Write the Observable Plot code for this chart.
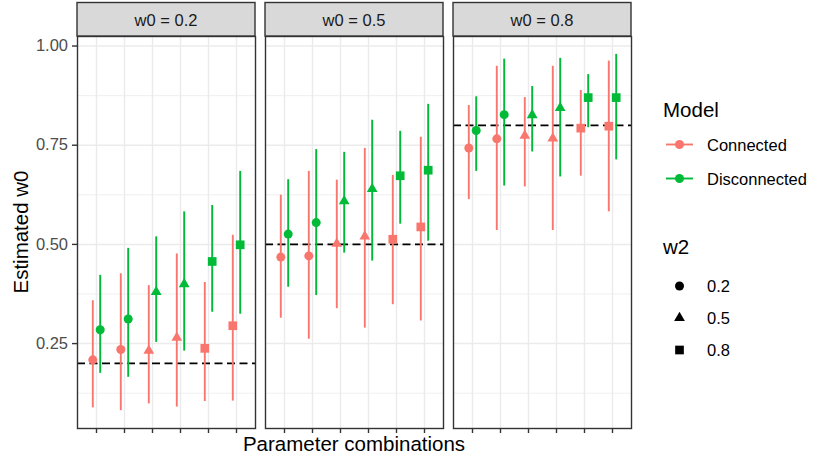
<!DOCTYPE html>
<html><head><meta charset="utf-8">
<script src="https://cdn.jsdelivr.net/npm/d3@7"></script>
<script src="https://cdn.jsdelivr.net/npm/@observablehq/plot@0.6"></script>
<style>
body{margin:0;background:#fff;}
#chart{position:relative;width:813px;height:459px;font-family:"Liberation Sans",Arial,sans-serif;}
</style>
</head><body><div id="chart"></div>
<script>
// ---- data ----
const facetLabels = ["w0 = 0.2", "w0 = 0.5", "w0 = 0.8"];
const trueW0 = [0.2, 0.5, 0.8];
const combos = ["1", "2", "3", "4", "5", "6"];
const comboW2 = ["0.2", "0.2", "0.5", "0.5", "0.8", "0.8"];
const w2Levels = ["0.2", "0.5", "0.8"];
const models = ["Connected", "Disconnected"];
const yTicks = [0.25, 0.5, 0.75, 1.0];
const yMinorTicks = [0.125, 0.375, 0.625, 0.875];

// Connected model: one row per facet (w0 = 0.2, 0.5, 0.8), six parameter combinations each
const connEst = [
  [0.209, 0.235, 0.232, 0.265, 0.238, 0.295],
  [0.468, 0.471, 0.502, 0.520, 0.513, 0.544],
  [0.743, 0.766, 0.774, 0.767, 0.793, 0.798]
];
const connLo = [
  [0.088, 0.081, 0.098, 0.090, 0.104, 0.105],
  [0.314, 0.261, 0.338, 0.289, 0.348, 0.307],
  [0.613, 0.535, 0.645, 0.535, 0.672, 0.582]
];
const connHi = [
  [0.358, 0.426, 0.396, 0.476, 0.404, 0.523],
  [0.624, 0.684, 0.662, 0.742, 0.674, 0.770],
  [0.850, 0.949, 0.870, 0.949, 0.888, 0.962]
];
// Disconnected model
const discEst = [
  [0.285, 0.312, 0.380, 0.400, 0.457, 0.499],
  [0.526, 0.555, 0.609, 0.640, 0.673, 0.687],
  [0.787, 0.827, 0.826, 0.844, 0.870, 0.870]
];
const discLo = [
  [0.175, 0.165, 0.253, 0.231, 0.329, 0.324],
  [0.392, 0.371, 0.478, 0.458, 0.551, 0.508],
  [0.684, 0.647, 0.733, 0.670, 0.794, 0.713]
];
const discHi = [
  [0.422, 0.490, 0.519, 0.582, 0.598, 0.684],
  [0.663, 0.739, 0.732, 0.813, 0.785, 0.853],
  [0.872, 0.967, 0.898, 0.969, 0.928, 0.979]
];

// ---- build table ----
const series = {Connected: [connEst, connLo, connHi], Disconnected: [discEst, discLo, discHi]};
const rows = [];
facetLabels.forEach((f, fi) => {
  models.forEach(m => {
    const [e, l, h] = series[m];
    combos.forEach((c, ci) => {
      rows.push({facet: f, combo: c, model: m, w2: comboW2[ci], est: e[fi][ci], lo: l[fi][ci], hi: h[fi][ci]});
    });
  });
});
const refRows = facetLabels.map((f, i) => ({facet: f, w0: trueW0[i]}));

// ---- styling ----
const colors = ["#F8766D", "#00BA38"];
const symbols = ["circle", "triangle", "square"];
const symbolR = {"0.2": 4.5, "0.5": 4.0, "0.8": 4.9};
const dodge = {Connected: -3.7, Disconnected: 3.7};
const W = 813, H = 459, mL = 76, mR = 181, mT = 36, mB = 31;

const pointMarks = [];
models.forEach(m => {
  pointMarks.push(Plot.ruleX(rows.filter(d => d.model === m), {
    x: "combo", y1: "lo", y2: "hi", fx: "facet", stroke: "model", strokeWidth: 1.9, dx: dodge[m]
  }));
});
models.forEach(m => {
  w2Levels.forEach(lv => {
    pointMarks.push(Plot.dot(rows.filter(d => d.model === m && d.w2 === lv), {
      x: "combo", y: "est", fx: "facet", fill: "model", symbol: "w2", r: symbolR[lv], dx: dodge[m], stroke: "none"
    }));
  });
});

const chart = Plot.plot({
  width: W, height: H,
  marginLeft: mL, marginRight: mR, marginTop: mT, marginBottom: mB,
  style: {fontFamily: '"Liberation Sans", Arial, sans-serif', fontSize: "16px", background: "#fff"},
  fx: {domain: facetLabels, axis: null, paddingInner: 0.055, paddingOuter: 0},
  x: {type: "point", domain: combos, padding: 0.6},
  y: {domain: [0.036, 1.024]},
  color: {domain: models, range: colors},
  symbol: {domain: w2Levels, range: symbols},
  marks: [
    Plot.gridY({ticks: yMinorTicks, stroke: "#EBEBEB", strokeOpacity: 1, strokeWidth: 0.75}),
    Plot.gridY({ticks: yTicks, stroke: "#EBEBEB", strokeOpacity: 1, strokeWidth: 1.45}),
    Plot.gridX({stroke: "#EBEBEB", strokeOpacity: 1, strokeWidth: 1.45}),
    Plot.ruleY(refRows, {y: "w0", fx: "facet", stroke: "black", strokeWidth: 1.8, strokeDasharray: "8,4.5"}),
    ...pointMarks,
    Plot.frame({stroke: "#333333", strokeWidth: 1.4}),
    Plot.axisX({tickSize: 5, tickFormat: () => "", stroke: "#333333", strokeWidth: 1.4, label: null}),
    Plot.axisY({ticks: yTicks, tickFormat: d3.format(".2f"), tickSize: 5, tickPadding: 4.5,
      fontSize: 16.5, fill: "#4D4D4D", stroke: "#333333", strokeWidth: 1.4, label: null})
  ]
});

document.getElementById("chart").appendChild(chart);

// ---- strips, axis titles, legend ----
const svg = d3.select(chart);
const fxScale = chart.scale("fx");
let fxPos, bw;
if (fxScale && typeof fxScale.apply === "function") {
  fxPos = v => fxScale.apply(v); bw = fxScale.bandwidth;
} else {
  const b = d3.scaleBand(facetLabels, [mL, W - mR]).paddingInner(0.055).paddingOuter(0);
  fxPos = v => b(v); bw = b.bandwidth();
}
const strips = svg.append("g");
facetLabels.forEach(f => {
  const x0 = fxPos(f);
  strips.append("rect").attr("x", x0).attr("y", 2.5).attr("width", bw).attr("height", mT - 2.5)
    .attr("fill", "#D9D9D9").attr("stroke", "#333333").attr("stroke-width", 1.4);
  strips.append("text").attr("x", x0 + bw / 2).attr("y", 25.5).attr("text-anchor", "middle")
    .attr("font-size", 16.5).attr("fill", "#1A1A1A").text(f);
});

svg.append("text").attr("x", (mL + W - mR) / 2).attr("y", 451).attr("text-anchor", "middle")
  .attr("font-size", 20.5).attr("fill", "black").text("Parameter combinations");
svg.append("text").attr("transform", `translate(28,${(mT + H - mB) / 2}) rotate(-90)`)
  .attr("text-anchor", "middle").attr("font-size", 20.5).attr("fill", "black").text("Estimated w0");

const lg = svg.append("g").attr("text-anchor", "start");
const lx = 663, kx = 679.5, tx = 707;
lg.append("text").attr("x", lx).attr("y", 116.5).attr("text-anchor", "start").attr("font-size", 20.5).attr("fill", "black").text("Model");
models.forEach((m, i) => {
  const y = 144.5 + i * 34;
  lg.append("line").attr("x1", kx - 13.5).attr("x2", kx + 13.5).attr("y1", y).attr("y2", y)
    .attr("stroke", colors[i]).attr("stroke-width", 1.9);
  lg.append("circle").attr("cx", kx).attr("cy", y).attr("r", 4.5).attr("fill", colors[i]);
  lg.append("text").attr("x", tx).attr("y", y + 6.5).attr("text-anchor", "start").attr("font-size", 16.5).attr("fill", "black").text(m);
});
lg.append("text").attr("x", lx).attr("y", 253.5).attr("text-anchor", "start").attr("font-size", 20.5).attr("fill", "black").text("w2");
const d3sym = {circle: d3.symbolCircle, triangle: d3.symbolTriangle, square: d3.symbolSquare};
w2Levels.forEach((lv, i) => {
  const y = 286 + i * 32;
  const r = symbolR[lv];
  lg.append("path").attr("transform", `translate(${kx},${y})`)
    .attr("d", d3.symbol(d3sym[symbols[i]], Math.PI * r * r)()).attr("fill", "black");
  lg.append("text").attr("x", tx).attr("y", y + 5.5).attr("text-anchor", "start").attr("font-size", 16.5).attr("fill", "black").text(lv);
});
</script>
</body></html>
